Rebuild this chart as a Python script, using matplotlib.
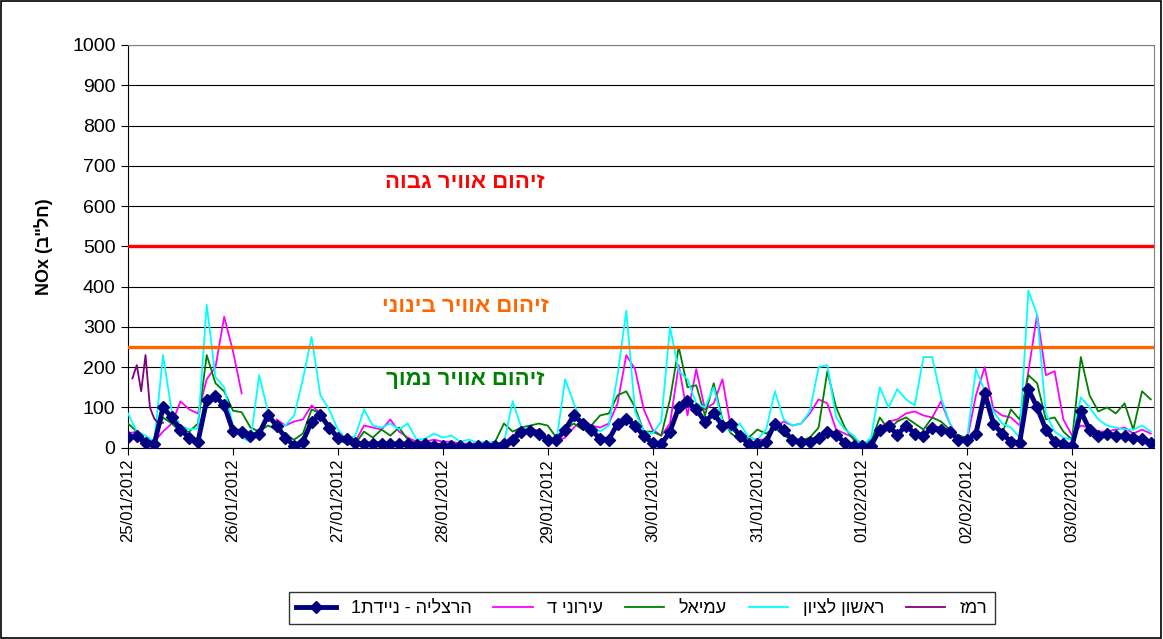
import numpy as np
import pandas as pd
import matplotlib
matplotlib.use('Agg')
import matplotlib.pyplot as plt
import matplotlib.dates as mdates
from matplotlib.patches import Rectangle

plt.rcParams['font.family'] = ['Liberation Sans', 'DejaVu Sans']


def heb(s):
    # no bidi in matplotlib, so hebrew text is given in visual order
    return s[::-1]


# 2-hourly readings, 25/01/2012 00:00 .. 03/02/2012 18:00
times = pd.date_range('2012-01-25 00:00', periods=118, freq='2h')
remez_times = pd.date_range('2012-01-25 01:00', periods=8, freq='h')

herzliya = [27, 28, 12, 8, 100, 75, 45, 25, 15, 118, 128, 105,
            42, 40, 30, 35, 80, 55, 25, 5, 15, 65, 82, 50,
            25, 22, 12, 8, 10, 10, 8, 10, 8, 6, 8, 5,
            5, 3, 5, 2, 5, 4, 5, 8, 20, 38, 42, 35,
            20, 18, 45, 80, 60, 45, 22, 20, 60, 72, 55, 30,
            12, 8, 40, 100, 115, 95, 65, 85, 55, 60, 28, 10,
            8, 15, 60, 45, 18, 15, 15, 25, 40, 32, 12, 5,
            3, 5, 45, 55, 32, 55, 35, 30, 50, 45, 40, 20,
            20, 35, 135, 60, 35, 15, 12, 145, 100, 45, 15, 8,
            5, 90, 45, 30, 35, 30, 28, 25, 22, 12]

ironi_d = [35, 40, 20, 15, 40, 60, 115, 95, 85, 170, 200, 325,
           240, 135, np.nan, np.nan, np.nan, 70, 55, 65, 70, 105, 85, 55,
           30, 15, 15, 55, 50, 45, 70, 40, 25, 15, 15, 20,
           15, 15, 10, 10, 10, 10, 10, 12, 30, 45, 40, 45,
           20, 15, 25, 50, 70, 55, 50, 60, 110, 230, 195, 95,
           45, 30, 60, 205, 80, 195, 95, 110, 170, 45, 35, 25,
           20, 20, 50, 65, 55, 60, 85, 120, 110, 45, 35, 25,
           5, 20, 50, 65, 70, 85, 90, 80, 75, 115, 60, 25,
           20, 130, 200, 95, 80, 75, 55, 190, 330, 180, 190, 70,
           30, 55, 50, 40, 40, 45, 50, 35, 45, 35]

amiel = [60, 40, 20, 15, 75, 60, 40, 40, 60, 230, 160, 140,
         92, 88, 50, 40, 55, 45, 30, 20, 35, 95, 85, 45,
         20, 10, 10, 40, 25, 45, 30, 50, 20, 10, 10, 12,
         5, 5, 5, 5, 5, 10, 15, 60, 40, 50, 55, 60,
         55, 25, 45, 60, 45, 55, 80, 85, 130, 140, 100, 40,
         40, 30, 120, 250, 150, 155, 80, 160, 70, 35, 20, 25,
         45, 35, 50, 30, 20, 18, 25, 50, 190, 100, 50, 20,
         12, 15, 75, 45, 65, 75, 60, 45, 75, 65, 45, 30,
         25, 40, 130, 50, 35, 95, 70, 180, 160, 70, 75, 40,
         20, 225, 130, 90, 100, 85, 110, 45, 140, 120]

rishon = [85, 40, 30, 15, 230, 90, 55, 45, 48, 355, 175, 150,
          55, 25, 15, 180, 90, 60, 55, 80, 170, 275, 130, 95,
          45, 20, 30, 95, 55, 50, 60, 45, 60, 20, 22, 35,
          25, 30, 15, 20, 12, 15, 10, 12, 115, 50, 45, 35,
          20, 15, 170, 110, 60, 55, 40, 55, 180, 340, 90, 40,
          35, 65, 300, 190, 170, 110, 100, 150, 65, 40, 60, 25,
          20, 45, 140, 70, 55, 60, 90, 200, 205, 75, 45, 30,
          5, 25, 150, 100, 145, 120, 105, 225, 225, 125, 60, 20,
          25, 195, 140, 90, 60, 50, 25, 390, 330, 85, 40, 25,
          20, 125, 100, 70, 55, 50, 45, 45, 55, 40]

remez = [172, 205, 140, 230, 100, 72, 60, 62]

fig = plt.figure(figsize=(11.63, 6.39), dpi=100)
ax = fig.add_axes([0.1101, 0.2994, 0.8822, 0.6302])

ax.plot(times, ironi_d, color='#FF00FF', lw=1.3, label=heb('עירוני ד'), zorder=3)
ax.plot(times, amiel, color='#008000', lw=1.3, label=heb('עמיאל'), zorder=3)
ax.plot(times, rishon, color='#00FFFF', lw=1.3, label=heb('ראשון לציון'), zorder=3)
ax.plot(remez_times, remez, color='#800080', lw=1.3, label=heb('רמז'), zorder=3)
ax.plot(times, herzliya, color='#000080', lw=3.5, marker='D', ms=6.5,
        label='1' + heb('הרצליה - ניידת'), zorder=4)

ax.axhline(500, color='#FF0000', lw=2.4, zorder=5)
ax.axhline(250, color='#FF6600', lw=2.4, zorder=5)

tr = ax.get_yaxis_transform()
ax.text(0.3285, 659, heb('זיהום אוויר גבוה'), transform=tr, color='#FF0000',
        fontsize=16, fontweight='bold', ha='center', va='center')
ax.text(0.3285, 350, heb('זיהום אוויר בינוני'), transform=tr, color='#FF6600',
        fontsize=16, fontweight='bold', ha='center', va='center')
ax.text(0.3285, 169, heb('זיהום אוויר נמוך'), transform=tr, color='#008000',
        fontsize=16, fontweight='bold', ha='center', va='center')

ax.set_ylim(0, 1000)
ax.set_yticks(np.arange(0, 1001, 100))
ax.set_xlim(pd.Timestamp('2012-01-25 00:00'), pd.Timestamp('2012-02-03 18:45'))
ax.xaxis.set_major_locator(mdates.DayLocator())
ax.xaxis.set_major_formatter(mdates.DateFormatter('%d/%m/%Y'))
plt.setp(ax.get_xticklabels(), rotation=90, ha='center')
ax.tick_params(axis='x', direction='out', length=5, labelsize=12, pad=3)
ax.tick_params(axis='y', direction='out', length=5, labelsize=14, pad=4)

ax.yaxis.grid(True, color='black', lw=0.8)
ax.set_axisbelow(True)
for side in ['left', 'bottom']:
    ax.spines[side].set_color('black')
for side in ['top', 'right']:
    ax.spines[side].set_color('#808080')

ax.set_ylabel('NOx (' + heb('חל"ב') + ')', fontsize=13, fontweight='bold', labelpad=14)

handles, labels = ax.get_legend_handles_labels()
order = [4, 0, 1, 2, 3]
leg = fig.legend([handles[i] for i in order], [labels[i] for i in order],
                 loc='center', bbox_to_anchor=(0.552, 0.0485), ncol=5,
                 fontsize=13, frameon=True, fancybox=False, edgecolor='black',
                 handlelength=2.2, columnspacing=1.2, borderpad=0.4)
leg.get_frame().set_linewidth(1)

fig.patches.append(Rectangle((0.001, 0.001), 0.997, 0.997, transform=fig.transFigure,
                             fill=False, edgecolor='black', lw=1.2))

plt.savefig('out.png', dpi=100)
